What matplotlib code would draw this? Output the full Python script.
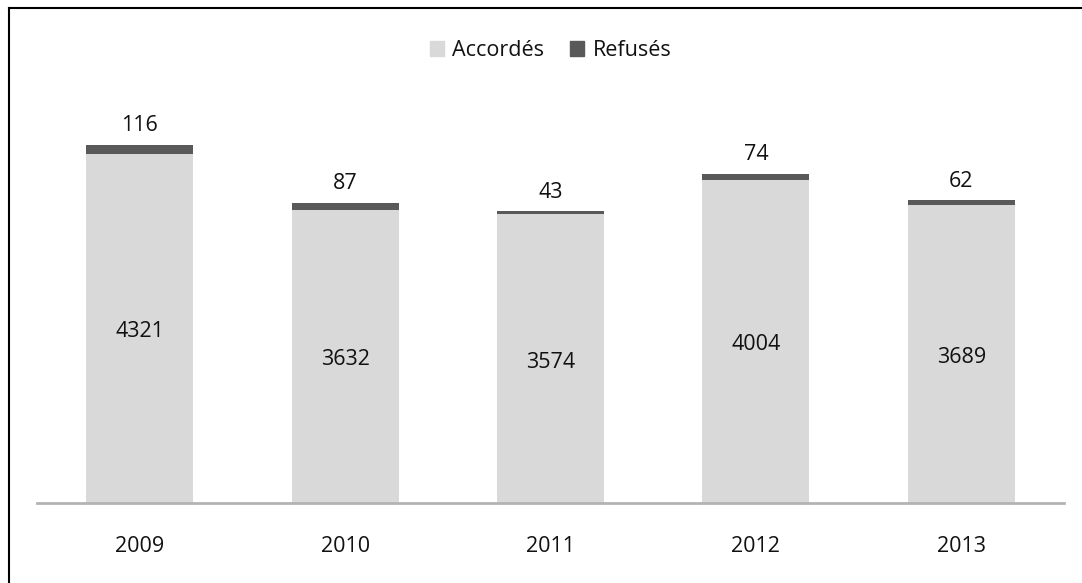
import matplotlib.pyplot as plt
from matplotlib.patches import Patch
from matplotlib.lines import Line2D

plt.rcParams['font.family'] = ['Open Sans', 'DejaVu Sans']

years = ['2009', '2010', '2011', '2012', '2013']
accordes = [4321, 3632, 3574, 4004, 3689]
refuses = [116, 87, 43, 74, 62]

light = '#D9D9D9'
dark = '#595959'
txt = '#111111'

fig = plt.figure(figsize=(10.82, 5.83), dpi=100)
ax = fig.add_axes([37/1082, 1-503/583, 1027/1082, 403.8/583])

x = range(len(years))
ax.bar(x, accordes, width=0.52, color=light)
ax.bar(x, refuses, width=0.52, bottom=accordes, color=dark)

# labels in the middle of the light part, and above the dark part
for i in x:
    ax.annotate(str(accordes[i]), (i, accordes[i]/2), xytext=(0, -2.5),
                textcoords='offset points', ha='center', va='center',
                fontsize=15.5, color=txt)
    ax.annotate(str(refuses[i]), (i, accordes[i]+refuses[i]), xytext=(0, 6),
                textcoords='offset points', ha='center', va='bottom',
                fontsize=15.5, color=txt)

ax.set_xlim(-0.5, 4.5)
ax.set_ylim(0, 5000)
ax.set_xticks(list(x))
ax.set_xticklabels(years, fontsize=15.5, color=txt)
ax.tick_params(axis='x', length=0, pad=24)
ax.set_yticks([])
for s in ['top', 'right', 'left']:
    ax.spines[s].set_visible(False)
ax.spines['bottom'].set_color('#B3B3B3')
ax.spines['bottom'].set_linewidth(2)

handles = [Patch(color=light, label='Accordés'), Patch(color=dark, label='Refusés')]
fig.legend(handles=handles, loc='center', bbox_to_anchor=(550.5/1082, 1-50.5/583),
           ncol=2, frameon=False, fontsize=15.5, handlelength=0.65,
           handleheight=0.65, handletextpad=0.4, columnspacing=1.2,
           labelcolor=txt)

# screenshot border (top and left only)
fig.add_artist(Line2D([9/1082, 1], [1-8/583, 1-8/583], color='black', lw=1.5,
                      transform=fig.transFigure))
fig.add_artist(Line2D([9/1082, 9/1082], [0, 1-8/583], color='black', lw=1.5,
                      transform=fig.transFigure))

fig.savefig('out.png', dpi=100)
